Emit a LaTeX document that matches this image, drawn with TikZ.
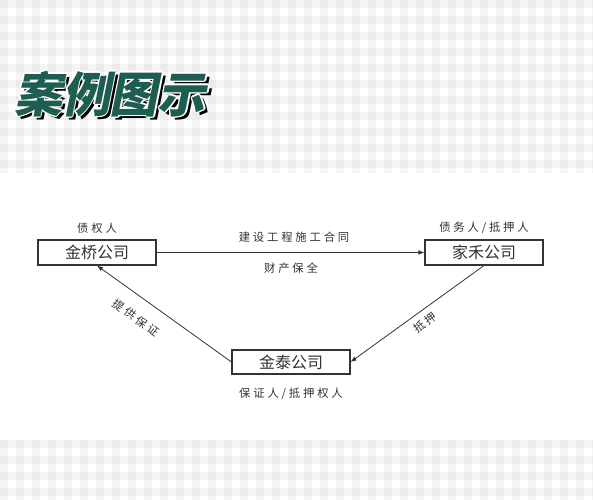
\documentclass[tikz,border=0pt]{standalone}
\usepackage{fontspec}
\setmainfont{Noto Sans CJK SC}
\newfontfamily\titlefont[FakeSlant=0.2]{Noto Sans CJK SC}
\newfontfamily\rolefont[LetterSpace=25]{Noto Sans CJK SC}
\usetikzlibrary{arrows.meta,positioning}
\definecolor{titlegreen}{RGB}{30,94,82}
\definecolor{linegray}{RGB}{51,51,51}

\begin{document}
\begin{tikzpicture}[x=0.75pt, y=-0.75pt, >={Latex[length=4.5pt,width=3.5pt]},
    company/.style={rectangle, draw=linegray, line width=0.8pt, minimum width=88.5pt, minimum height=18.75pt, inner sep=0pt, font=\fontsize{12}{14}\selectfont, text=linegray},
    role/.style={inner sep=0pt, font=\rolefont\fontsize{8.5}{10}\selectfont, text=linegray},
    relation/.style={->, draw=linegray, line width=0.6pt},
    stripe/.style={fill=black, opacity=0.04},
    titletext/.style={inner sep=0pt, font=\titlefont\bfseries\fontsize{36}{40}\selectfont}]
    % Background
    \fill[white] (0,0) rectangle (593,500);
    \useasboundingbox (0,0) rectangle (593,500);
    \foreach \i in {0,...,37} {
        \fill[stripe] (16*\i,0) rectangle (16*\i+8,173);
        \fill[stripe] (16*\i,440) rectangle (16*\i+8,500);
    }
    \foreach \j in {0,...,10}
        \fill[stripe] (0,16*\j) rectangle (593,16*\j+8);
    \foreach \j in {0,...,3}
        \fill[stripe] (0,440+16*\j) rectangle (593,448+16*\j);

    % Title
    \node [titletext, text=black] (title_shadow) at (113,97) {案例图示};
    \foreach \dx/\dy [count=\i] in {-1.5/0, 1.5/0, 0/-1.5, 0/1.5, -1/-1, 1/1, -1/1, 1/-1}
        \node [titletext, text=white] (title_edge\i) at (110+\dx,94+\dy) {案例图示};
    \node [titletext, text=titlegreen] (title) at (110,94) {案例图示};

    % Companies
    \node [company] (jinqiao) at (97,252.5) {金桥公司};
    \node [company] (jiahe) at (484,252.5) {家禾公司};
    \node [company, minimum height=18pt] (jintai) at (291,362) {金泰公司};

    % Roles
    \node [role, above=4pt of jinqiao] (jinqiao_role) {债权人};
    \node [role, above=4pt of jiahe] (jiahe_role) {债务人/抵押人};
    \node [role, below=10pt of jintai] (jintai_role) {保证人/抵押权人};

    % Relations
    \draw [relation] (jinqiao) -- (jiahe);
    \draw [relation] (jintai.west) -- (jinqiao.south);
    \draw [relation] (jiahe.south) -- (jintai.east);
    \node [role] (contract) at (294,237) {建设工程施工合同};
    \node [role] (preserve) at (291,268) {财产保全};
    \node [role, rotate=-36] (guarantee) at (136,318) {提供保证};
    \node [role, rotate=36] (mortgage) at (425,323) {抵押};
\end{tikzpicture}
\end{document}
